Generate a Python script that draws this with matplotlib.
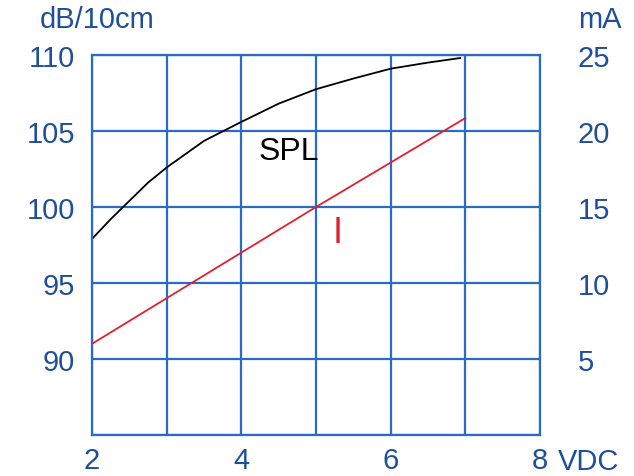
import matplotlib
matplotlib.use("Agg")
import matplotlib.pyplot as plt

plt.rcParams["font.family"] = ["Liberation Sans", "DejaVu Sans"]

BLUE_TXT = "#1f4f9a"
BLUE_GRID = "#2a6bc6"
RED = "#e0202f"

# SPL curve (dB/10cm) vs voltage
spl_v = [2.0, 2.25, 2.5, 2.75, 3.0, 3.5, 4.0, 4.5, 5.0, 5.5, 6.0, 6.5, 6.93]
spl_db = [97.9, 99.2, 100.4, 101.6, 102.6, 104.35, 105.6, 106.8, 107.75, 108.45, 109.1, 109.5, 109.8]
# current (mA) vs voltage
cur_v = [2.0, 5.0, 7.0]
cur_ma = [6.0, 15.0, 20.85]

x_ticks = [2, 4, 6, 8]
left_ticks = [90, 95, 100, 105, 110]
right_ticks = [5, 10, 15, 20, 25]

FS = 21

fig = plt.figure(figsize=(6.34, 4.77), dpi=100)
ax = fig.add_axes([92 / 634, 41 / 477, 448 / 634, 380 / 477])
ax.set_xlim(2, 8)
ax.set_ylim(85, 110)

ax.set_xticks(range(2, 9), minor=True)
ax.set_xticks(x_ticks)
ax.set_yticks([85] + left_ticks)
ax.set_yticklabels([""] + [str(t) for t in left_ticks])
ax.grid(True, which="both", color=BLUE_GRID, lw=1.6)
for s in ax.spines.values():
    s.set_color(BLUE_GRID)
    s.set_linewidth(1.6)
ax.tick_params(which="both", length=0, labelsize=FS, colors=BLUE_TXT)
ax.tick_params(axis="y", pad=12)
ax.tick_params(axis="x", pad=8)

ax.plot(spl_v, spl_db, color="black", lw=1.3, clip_on=False, solid_joinstyle="round")

ax2 = ax.twinx()
ax2.set_ylim(0, 25)
ax2.set_yticks(right_ticks)
ax2.tick_params(length=0, labelsize=FS, colors=BLUE_TXT, pad=27)
for s in ax2.spines.values():
    s.set_visible(False)
ax2.plot(cur_v, cur_ma, color=RED, lw=1.3)

ax.text(4.64, 103.7, "SPL", fontsize=23, color="black", ha="center", va="center")
ax.text(5.29, 98.3, "I", fontsize=26, color=RED, ha="center", va="center")

fig.text(40 / 634, 1 - 20 / 477, "dB/10cm", fontsize=FS, color=BLUE_TXT, va="center", ha="left")
fig.text(578 / 634, 1 - 20 / 477, "mA", fontsize=FS, color=BLUE_TXT, va="center", ha="left")
fig.text(558 / 634, 1 - 462 / 477, "VDC", fontsize=FS, color=BLUE_TXT, va="center", ha="left")

fig.savefig("out.png", dpi=100)
